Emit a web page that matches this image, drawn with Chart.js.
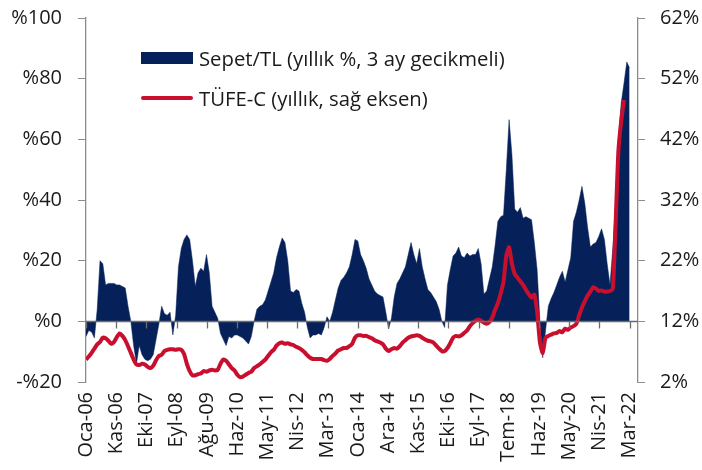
<!DOCTYPE html>
<html>
<head>
<meta charset="utf-8">
<script src="https://cdn.jsdelivr.net/npm/chart.js@4"></script>
<style>
  body { margin: 0; background: #fff; }
  #wrap { position: relative; width: 702px; height: 470px; font-family: 'Open Sans', 'Noto Sans', sans-serif; }
  .leg { position: absolute; left: 141px; height: 26px; display: flex; align-items: center; font-size: 20.3px; color: #1a1a1a; white-space: nowrap; }
  .leg .sw { width: 52px; margin-right: 6px; }
</style>
</head>
<body>
<div id="wrap">
  <canvas id="c" width="702" height="470"></canvas>
  <div class="leg" style="top:45px"><span class="sw" style="height:12px;background:#06215a"></span>Sepet/TL (yıllık %, 3 ay gecikmeli)</div>
  <div class="leg" style="top:85px"><span class="sw" style="height:4px;background:#c8102e;border-radius:2px"></span>TÜFE-C (yıllık, sağ eksen)</div>
</div>
<script>
(function () {
    'use strict';

    // ── Data: monthly, Oca-06 .. Mar-22 ───────────────────────────────────
    var xLabels = ['Oca-06','Kas-06','Eki-07','Eyl-08','Ağu-09','Haz-10','May-11','Nis-12','Mar-13',
                   'Oca-14','Ara-14','Kas-15','Eki-16','Eyl-17','Tem-18','Haz-19','May-20','Nis-21','Mar-22'];

    // Sepet/TL, yıllık %, 3 ay gecikmeli (sol eksen)
    var sepet = [
        -5, -3, -3.5, -5.5, 4, 20, 19, 12, 12.5, 12.5, 12.5, 12, 12, 11.5, 11, 5, 0, -8, -14, -8,
        -11, -12.5, -13, -12.5, -11, -6, -1, 5, 2.5, 2, 3, -4.5, 2, 18, 24, 27, 28.5, 27, 20, 11.5,
        16, 17.5, 16.5, 22, 16, 5, 3, 1, -4, -6, -8, -5, -5.5, -4.5, -4.5, -5, -5.5, -6.5, -7.5, -5,
        0, 4, 5, 5.5, 7, 10, 13, 16, 21, 24.5, 27.5, 26, 20, 10, 9.5, 10.5, 10, 6, 3, -2,
        -5.5, -4.5, -4.5, -4, -4.5, -2, 1.5, 0, 3, 7, 11, 13.5, 14.5, 16, 18, 22, 27, 26.5, 22, 20,
        17.5, 14, 12, 10, 9, 8.5, 8, 3, -2.5, 1, 8, 12.5, 14, 16, 18, 22, 26, 22, 19, 24,
        18, 14, 10.5, 9.5, 8, 6.5, 4, 0, -2, 12, 17, 21.5, 22.5, 24.5, 21.5, 21, 22.5, 21.5, 22, 22,
        24, 19, 9, 10, 14, 18, 25, 33, 34.5, 35, 50, 66.5, 55, 37, 36, 37.5, 34, 34.5, 34, 33.5,
        26, 17, 0, -12, -3, 5, 7.5, 9.5, 12, 14.5, 16.5, 13, 17, 21, 33, 36, 40, 44.5, 39, 31,
        24.5, 25.5, 26, 28, 30.5, 27, 19, 12, 24, 38, 60, 72, 78.5, 85.5, 83.5
    ];

    // TÜFE-C, yıllık % (sağ eksen)
    var tufeC = [
        5.7, 6.2, 6.8, 7.5, 8.2, 8.6, 9.3, 9.2, 8.8, 8.3, 8.6, 9.4, 10.0, 9.6, 8.9, 7.9, 6.8, 5.7, 4.9, 4.8,
        5.0, 4.9, 4.5, 4.3, 4.7, 5.6, 6.3, 6.5, 7.1, 7.3, 7.4, 7.4, 7.3, 7.4, 7.3, 6.6, 5.0, 3.8, 3.1, 3.1,
        3.3, 3.4, 3.8, 3.7, 3.9, 4.0, 3.9, 4.0, 5.0, 5.7, 5.5, 4.9, 4.3, 3.9, 3.2, 2.8, 2.9, 3.2, 3.5, 3.7,
        4.3, 4.6, 4.9, 5.3, 5.7, 6.3, 6.9, 7.3, 8.0, 8.4, 8.5, 8.3, 8.4, 8.2, 8.1, 7.8, 7.6, 7.3, 6.9, 6.4,
        6.0, 5.8, 5.8, 5.8, 5.8, 5.6, 5.5, 5.8, 6.3, 6.7, 7.2, 7.4, 7.6, 7.6, 7.9, 8.3, 9.3, 9.7, 9.7, 9.6,
        9.6, 9.4, 9.2, 8.9, 8.7, 8.5, 8.2, 7.5, 7.1, 7.4, 7.6, 7.5, 7.9, 8.5, 8.9, 9.3, 9.5, 9.6, 9.7, 9.6,
        9.3, 9.0, 8.8, 8.7, 8.5, 8.0, 7.5, 7.1, 7.1, 7.6, 8.4, 9.3, 9.6, 9.5, 9.7, 10.1, 10.5, 11.2, 11.7, 12.1,
        12.3, 12.1, 11.8, 11.6, 11.9, 12.6, 13.9, 15.0, 16.6, 18.5, 22.8, 24.2, 21.5, 19.8, 19.2, 18.6, 18.0, 17.2, 16.5, 15.9,
        16.4, 13.6, 8.5, 6.8, 9.3, 9.6, 9.8, 10.0, 10.1, 10.4, 10.2, 10.8, 10.6, 11.0, 11.2, 11.6, 13.0, 14.3, 15.3, 16.2,
        16.9, 17.6, 17.4, 17.0, 17.1, 16.9, 16.9, 17.0, 17.3, 28, 40, 45, 48.5
    ];

    var NAVY = '#06215a';
    var RED  = '#c8102e';
    var FONT = "'Open Sans', 'Noto Sans', sans-serif";
    var lastIdx = sepet.length - 1;

    function toPoints(arr) {
        return arr.map(function (v, i) { return { x: i, y: v }; });
    }

    // keep the plot box fixed: no extra label padding on the value axes
    function fixY(width) {
        return function (s) {
            s.width = width;
            s.paddingTop = 0;
            s.paddingBottom = 0;
        };
    }

    // zero line + small month ticks, like the Excel axis crossing at %0
    var zeroAxis = {
        id: 'zeroAxis',
        afterDatasetsDraw: function (chart) {
            var ctx = chart.ctx, x = chart.scales.x, y = chart.scales.y;
            var area = chart.chartArea;
            var y0 = Math.round(y.getPixelForValue(0)) + 0.5;
            ctx.save();
            ctx.strokeStyle = '#6b6b6b';
            ctx.lineWidth = 1.3;
            ctx.beginPath();
            ctx.moveTo(area.left, y0);
            ctx.lineTo(area.right, y0);
            x.ticks.forEach(function (t) {
                var px = Math.round(x.getPixelForValue(t.value)) + 0.5;
                ctx.moveTo(px, y0);
                ctx.lineTo(px, y0 + 7);
            });
            ctx.stroke();
            ctx.restore();
        }
    };

    new Chart(document.getElementById('c'), {
        type: 'line',
        data: {
            datasets: [
                {
                    label: 'TÜFE-C (yıllık, sağ eksen)',
                    data: toPoints(tufeC),
                    borderColor: RED,
                    borderWidth: 4,
                    pointRadius: 0,
                    tension: 0.2,
                    fill: false,
                    yAxisID: 'y2',
                    order: 0
                },
                {
                    label: 'Sepet/TL (yıllık %, 3 ay gecikmeli)',
                    data: toPoints(sepet),
                    borderColor: NAVY,
                    backgroundColor: NAVY,
                    borderWidth: 0.5,
                    pointRadius: 0,
                    tension: 0,
                    fill: 'origin',
                    yAxisID: 'y',
                    order: 1
                }
            ]
        },
        options: {
            responsive: false,
            animation: false,
            layout: { padding: { top: 18 } },
            plugins: { legend: { display: false }, tooltip: { enabled: false } },
            scales: {
                x: {
                    type: 'linear',
                    min: 0,
                    max: 197,
                    grid: { display: false, drawTicks: false },
                    border: { display: false },
                    afterBuildTicks: function (s) {
                        s.ticks = xLabels.map(function (l, i) { return { value: i * lastIdx / (xLabels.length - 1) }; });
                    },
                    afterFit: function (s) { s.height = 88; },
                    ticks: {
                        autoSkip: false,
                        minRotation: 90,
                        maxRotation: 90,
                        padding: 10,
                        color: '#1a1a1a',
                        font: { family: FONT, size: 20 },
                        callback: function (v, i) { return xLabels[i]; }
                    }
                },
                y: {
                    position: 'left',
                    min: -20,
                    max: 100,
                    afterFit: fixY(86),
                    grid: { drawOnChartArea: false, tickLength: 8, color: '#8c8c8c' },
                    border: { display: true, color: '#8c8c8c', width: 1.3 },
                    ticks: {
                        stepSize: 20,
                        padding: 16,
                        color: '#1a1a1a',
                        font: { family: FONT, size: 20 },
                        callback: function (v) { return v < 0 ? '-%' + (-v) : '%' + v; }
                    }
                },
                y2: {
                    position: 'right',
                    min: 2,
                    max: 62,
                    afterFit: fixY(64),
                    grid: { drawOnChartArea: false, tickLength: 7, color: '#8c8c8c' },
                    border: { display: true, color: '#8c8c8c', width: 1.3 },
                    ticks: {
                        stepSize: 10,
                        padding: 15,
                        color: '#1a1a1a',
                        font: { family: FONT, size: 20 },
                        callback: function (v) { return v + '%'; }
                    }
                }
            }
        },
        plugins: [zeroAxis]
    });
})();
</script>
</body>
</html>
